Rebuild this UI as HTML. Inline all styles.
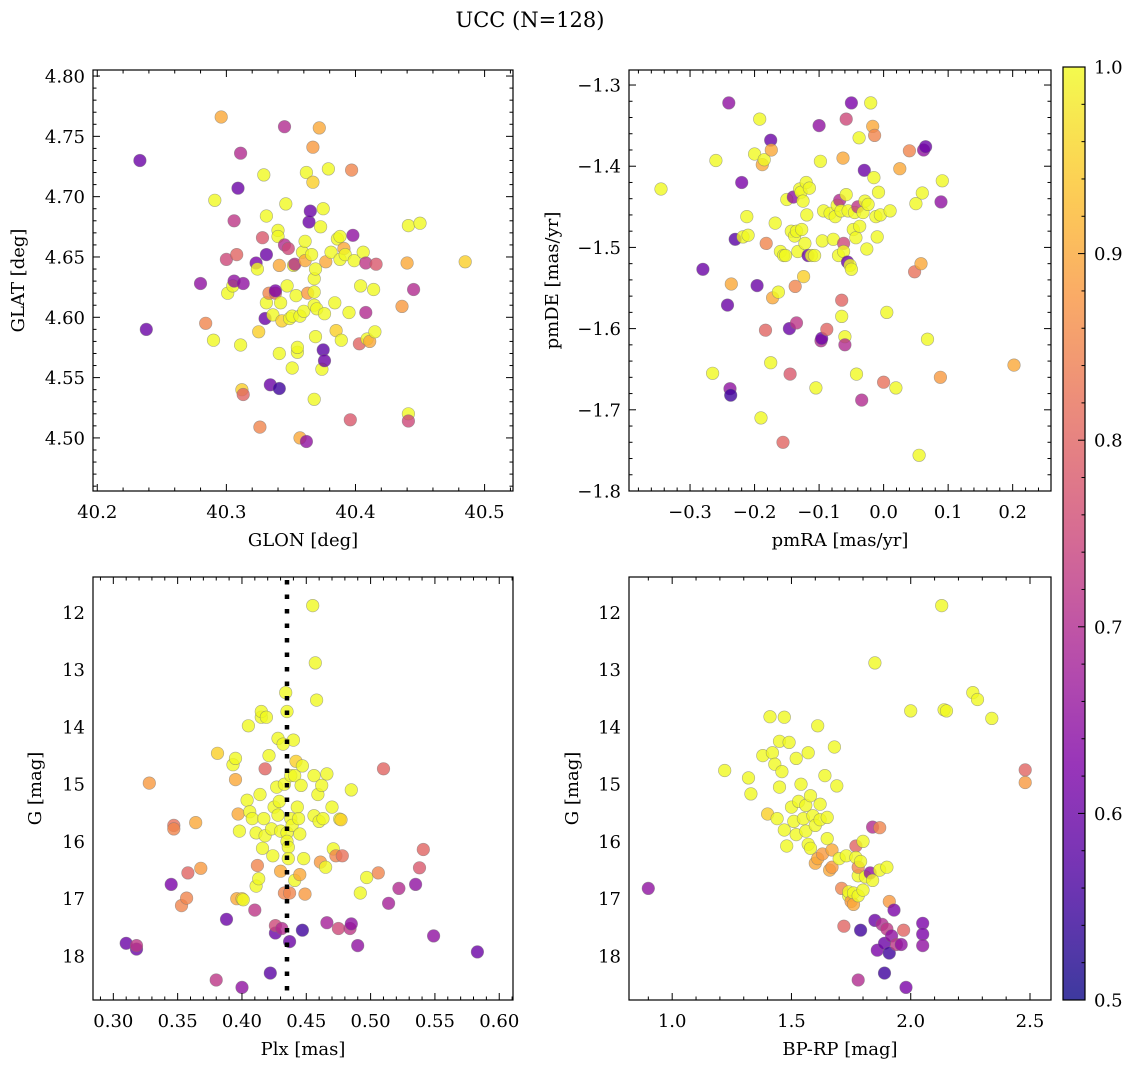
<!DOCTYPE html>
<html><head><meta charset="utf-8">
<style>
body{margin:0;background:#fff;}
svg{display:block;font-family:"DejaVu Serif","Liberation Serif",serif;}
</style></head>
<body>
<svg id="fig" width="1136" height="1067" viewBox="0 0 1136 1067">
<text x="530" y="27" font-size="21" text-anchor="middle">UCC (N=128)</text>
</svg>
<script>
// ---- data: [x, y, membership probability] ----
const glonGlat = [[40.233,4.730,0.6],[40.238,4.590,0.6],[40.280,4.628,0.65],[40.284,4.595,0.85],[40.291,4.697,1],[40.290,4.581,1],[40.296,4.766,0.9],[40.300,4.648,0.75],[40.301,4.620,1],[40.305,4.626,1],[40.306,4.680,0.72],[40.308,4.652,0.8],[40.306,4.630,0.65],[40.309,4.707,0.6],[40.311,4.736,0.7],[40.311,4.577,1],[40.312,4.540,0.95],[40.313,4.536,0.8],[40.313,4.628,0.65],[40.323,4.645,0.62],[40.324,4.640,1],[40.325,4.588,0.95],[40.326,4.509,0.85],[40.328,4.666,0.78],[40.329,4.718,1],[40.330,4.599,0.6],[40.331,4.652,0.6],[40.331,4.684,1],[40.331,4.612,1],[40.333,4.620,0.85],[40.334,4.544,0.6],[40.336,4.602,1],[40.338,4.620,0.82],[40.338,4.622,0.62],[40.340,4.672,1],[40.340,4.667,1],[40.341,4.643,0.9],[40.341,4.541,0.55],[40.341,4.570,1],[40.342,4.612,1],[40.343,4.597,0.95],[40.345,4.758,0.7],[40.345,4.660,0.7],[40.346,4.694,1],[40.347,4.626,1],[40.348,4.657,0.75],[40.349,4.599,1],[40.351,4.601,1],[40.351,4.558,1],[40.352,4.643,1],[40.353,4.644,0.7],[40.354,4.618,1],[40.355,4.571,1],[40.355,4.575,1],[40.357,4.500,0.9],[40.357,4.601,1],[40.359,4.654,1],[40.360,4.605,1],[40.361,4.647,0.9],[40.361,4.663,1],[40.362,4.720,1],[40.362,4.497,0.65],[40.363,4.620,0.88],[40.364,4.679,0.6],[40.365,4.688,0.6],[40.366,4.652,1],[40.367,4.741,0.88],[40.367,4.712,0.95],[40.368,4.632,1],[40.368,4.610,1],[40.368,4.621,1],[40.368,4.532,1],[40.369,4.584,1],[40.369,4.640,1],[40.370,4.607,1],[40.372,4.757,0.9],[40.373,4.675,1],[40.374,4.557,1],[40.375,4.690,1],[40.375,4.573,0.58],[40.376,4.564,0.6],[40.376,4.603,1],[40.377,4.646,0.9],[40.379,4.723,1],[40.381,4.654,1],[40.384,4.612,1],[40.385,4.589,0.95],[40.386,4.665,1],[40.388,4.648,1],[40.388,4.667,1],[40.389,4.581,1],[40.391,4.657,0.9],[40.392,4.652,1],[40.395,4.604,1],[40.396,4.515,0.78],[40.397,4.722,0.85],[40.398,4.668,0.65],[40.399,4.647,1],[40.403,4.578,0.8],[40.404,4.626,1],[40.406,4.654,1],[40.408,4.645,0.72],[40.408,4.604,0.7],[40.409,4.582,1],[40.411,4.580,0.9],[40.414,4.623,1],[40.415,4.588,1],[40.416,4.644,0.78],[40.436,4.609,0.88],[40.440,4.645,0.9],[40.441,4.520,1],[40.441,4.676,1],[40.441,4.514,0.75],[40.445,4.623,0.7],[40.450,4.678,1],[40.485,4.646,0.95]];
const pmData = [[-0.345,-1.428,1],[-0.280,-1.527,0.6],[-0.265,-1.655,1],[-0.260,-1.393,1],[-0.240,-1.322,0.65],[-0.242,-1.571,0.6],[-0.238,-1.674,0.65],[-0.237,-1.682,0.55],[-0.236,-1.545,0.9],[-0.230,-1.490,0.58],[-0.220,-1.420,0.62],[-0.218,-1.487,1],[-0.212,-1.462,1],[-0.210,-1.485,1],[-0.200,-1.385,1],[-0.196,-1.547,0.6],[-0.192,-1.342,1],[-0.190,-1.710,1],[-0.188,-1.398,0.9],[-0.185,-1.392,1],[-0.183,-1.602,0.8],[-0.182,-1.495,0.85],[-0.175,-1.368,0.6],[-0.174,-1.380,0.9],[-0.172,-1.562,0.9],[-0.175,-1.642,1],[-0.168,-1.470,1],[-0.163,-1.555,1],[-0.160,-1.505,1],[-0.156,-1.740,0.8],[-0.155,-1.510,1],[-0.152,-1.510,1],[-0.150,-1.441,1],[-0.146,-1.600,0.6],[-0.145,-1.656,0.78],[-0.143,-1.480,1],[-0.140,-1.438,0.65],[-0.138,-1.486,1],[-0.137,-1.548,0.85],[-0.135,-1.593,0.72],[-0.135,-1.480,1],[-0.133,-1.505,1],[-0.130,-1.428,1],[-0.128,-1.432,1],[-0.127,-1.478,1],[-0.125,-1.443,1],[-0.124,-1.536,0.95],[-0.122,-1.495,1],[-0.120,-1.420,1],[-0.119,-1.460,1],[-0.117,-1.510,0.6],[-0.115,-1.427,1],[-0.112,-1.510,1],[-0.107,-1.510,1],[-0.105,-1.673,1],[-0.100,-1.350,0.65],[-0.097,-1.615,0.7],[-0.098,-1.394,1],[-0.096,-1.612,0.6],[-0.095,-1.492,1],[-0.093,-1.455,1],[-0.088,-1.601,0.8],[-0.083,-1.458,1],[-0.078,-1.490,1],[-0.075,-1.462,1],[-0.072,-1.448,1],[-0.070,-1.510,1],[-0.068,-1.442,0.7],[-0.066,-1.455,1],[-0.065,-1.565,0.8],[-0.065,-1.585,1],[-0.063,-1.390,0.9],[-0.062,-1.495,0.75],[-0.062,-1.505,1],[-0.060,-1.610,1],[-0.060,-1.620,0.7],[-0.058,-1.342,0.75],[-0.058,-1.435,1],[-0.056,-1.518,0.6],[-0.055,-1.455,1],[-0.052,-1.522,1],[-0.050,-1.527,1],[-0.050,-1.322,0.62],[-0.047,-1.478,1],[-0.045,-1.457,1],[-0.043,-1.488,1],[-0.042,-1.656,1],[-0.040,-1.450,0.72],[-0.038,-1.365,1],[-0.037,-1.474,1],[-0.034,-1.688,0.7],[-0.032,-1.457,1],[-0.030,-1.405,0.6],[-0.029,-1.443,1],[-0.026,-1.502,1],[-0.024,-1.447,1],[-0.020,-1.322,1],[-0.017,-1.351,0.9],[-0.015,-1.414,1],[-0.014,-1.362,0.85],[-0.012,-1.462,1],[-0.010,-1.487,1],[-0.008,-1.432,1],[-0.005,-1.460,1],[0.000,-1.666,0.82],[0.005,-1.580,1],[0.010,-1.455,1],[0.019,-1.673,1],[0.025,-1.403,0.9],[0.040,-1.381,0.85],[0.048,-1.530,0.82],[0.050,-1.446,1],[0.055,-1.756,1],[0.058,-1.520,0.9],[0.060,-1.433,1],[0.062,-1.380,0.65],[0.065,-1.376,0.6],[0.068,-1.613,1],[0.088,-1.660,0.88],[0.089,-1.444,0.65],[0.091,-1.418,1],[0.202,-1.645,0.9]];
const plxG = [[0.310,17.78,0.6],[0.318,17.88,0.6],[0.318,17.82,0.72],[0.328,14.98,0.88],[0.345,16.75,0.62],[0.347,15.72,0.82],[0.347,15.78,0.85],[0.353,17.12,0.85],[0.357,16.99,0.85],[0.358,16.55,0.8],[0.364,15.67,0.9],[0.368,16.47,0.88],[0.380,18.42,0.72],[0.381,14.46,0.95],[0.388,17.36,0.6],[0.393,14.66,1],[0.395,14.55,1],[0.395,14.92,0.9],[0.396,17.0,0.9],[0.397,15.52,0.9],[0.398,15.82,1],[0.400,17.0,0.95],[0.400,18.55,0.65],[0.401,17.02,1],[0.404,15.28,1],[0.405,13.98,1],[0.406,15.48,1],[0.408,15.60,1],[0.410,17.20,0.72],[0.411,16.78,1],[0.411,15.85,1],[0.412,16.42,0.85],[0.413,16.65,1],[0.414,15.18,1],[0.415,13.83,1],[0.415,13.73,1],[0.416,16.12,1],[0.417,15.60,1],[0.418,15.90,1],[0.418,14.73,0.8],[0.419,13.83,1],[0.421,14.50,1],[0.422,18.30,0.58],[0.423,15.78,1],[0.424,16.25,1],[0.425,15.40,1],[0.426,17.60,0.6],[0.426,17.47,0.75],[0.427,15.05,1],[0.428,14.20,1],[0.428,15.54,1],[0.429,15.30,1],[0.430,15.82,1],[0.430,16.52,0.9],[0.431,17.52,0.7],[0.432,14.30,1],[0.433,16.90,0.85],[0.433,15.00,1],[0.434,13.40,1],[0.435,15.85,1],[0.435,16.00,1],[0.435,13.73,1],[0.436,16.10,1],[0.436,16.30,1],[0.437,16.90,0.85],[0.437,17.75,0.6],[0.438,14.85,1],[0.438,15.60,1],[0.439,15.72,1],[0.440,14.23,1],[0.441,16.68,1],[0.441,14.85,1],[0.442,14.60,0.95],[0.443,15.40,1],[0.444,15.60,1],[0.445,16.58,0.9],[0.445,15.87,1],[0.446,15.02,1],[0.447,14.68,1],[0.447,17.55,0.55],[0.448,16.30,1],[0.449,16.92,0.88],[0.455,11.88,1],[0.456,14.85,1],[0.456,15.55,1],[0.457,12.88,1],[0.458,13.53,1],[0.459,15.18,1],[0.460,15.65,1],[0.461,16.36,0.88],[0.462,15.02,1],[0.463,15.60,1],[0.465,16.45,1],[0.466,14.82,1],[0.466,17.42,0.68],[0.470,15.40,1],[0.471,16.13,1],[0.473,16.25,0.85],[0.475,17.52,0.75],[0.476,15.61,1],[0.477,15.62,0.95],[0.478,16.25,0.82],[0.484,17.52,0.72],[0.485,17.44,0.65],[0.485,15.10,1],[0.490,17.82,0.65],[0.492,16.90,1],[0.497,16.63,1],[0.506,16.55,0.85],[0.510,14.73,0.8],[0.514,17.08,0.68],[0.522,16.82,0.7],[0.535,16.75,0.65],[0.538,16.46,0.78],[0.541,16.14,0.8],[0.549,17.65,0.65],[0.583,17.93,0.6]];
const colorG = [[0.90,16.82,0.65],[1.22,14.76,1],[1.32,14.89,1],[1.33,15.17,1],[1.38,14.50,1],[1.41,13.82,1],[1.40,15.52,0.95],[1.42,14.45,1],[1.43,14.65,1],[1.44,15.60,1],[1.45,15.05,1],[1.45,14.25,1],[1.46,14.78,1],[1.47,13.83,1],[1.47,15.80,1],[1.48,16.08,1],[1.49,14.27,1],[1.50,15.40,1],[1.51,15.65,1],[1.52,15.88,1],[1.52,14.55,1],[1.53,15.30,1],[1.54,15.00,1],[1.55,15.60,1],[1.56,15.82,1],[1.56,15.37,1],[1.57,14.45,1],[1.57,16.05,1],[1.58,16.12,1],[1.58,15.20,1],[1.59,15.55,1],[1.60,15.72,1],[1.60,16.38,0.9],[1.61,13.98,1],[1.61,16.30,0.9],[1.62,15.35,1],[1.62,15.62,1],[1.63,16.22,0.88],[1.64,14.85,1],[1.65,15.95,1],[1.65,15.58,1],[1.66,16.50,0.9],[1.67,16.15,0.9],[1.67,16.45,0.88],[1.68,14.35,1],[1.69,15.03,1],[1.70,16.30,1],[1.71,16.82,0.85],[1.72,17.48,0.8],[1.73,16.25,1],[1.74,16.95,1],[1.74,16.88,1],[1.75,17.05,0.88],[1.76,16.90,1],[1.76,17.10,0.9],[1.77,16.08,0.8],[1.77,16.28,1],[1.78,16.95,1],[1.78,16.60,1],[1.78,16.45,0.85],[1.78,18.42,0.7],[1.79,16.35,1],[1.79,17.55,0.55],[1.80,16.0,1],[1.80,16.85,1],[1.81,16.62,1],[1.83,16.55,0.65],[1.84,15.75,0.7],[1.84,16.68,1],[1.85,12.88,1],[1.85,17.38,0.6],[1.86,17.90,0.62],[1.87,16.50,1],[1.87,15.76,0.85],[1.88,17.45,0.7],[1.89,18.30,0.55],[1.89,17.78,0.6],[1.90,17.53,0.72],[1.90,16.45,1],[1.91,17.05,0.88],[1.91,17.95,0.55],[1.92,17.65,0.65],[1.93,17.20,0.62],[1.94,17.80,0.72],[1.96,17.80,0.65],[1.97,17.55,0.8],[1.98,18.55,0.62],[2.00,13.72,1],[2.05,17.43,0.62],[2.05,17.62,0.62],[2.05,17.82,0.65],[2.13,11.88,1],[2.14,13.70,1],[2.15,13.72,1],[2.26,13.40,1],[2.28,13.52,1],[2.34,13.85,1],[2.48,14.75,0.8],[2.48,14.97,0.88]];
const plxMedian = 0.435;
const ticks1x = [40.2,40.3,40.4,40.5], ticks1y = [4.50,4.55,4.60,4.65,4.70,4.75,4.80];
const ticks2x = [-0.3,-0.2,-0.1,0.0,0.1,0.2], ticks2y = [-1.8,-1.7,-1.6,-1.5,-1.4,-1.3];
const ticks3x = [0.30,0.35,0.40,0.45,0.50,0.55,0.60], ticksGy = [12,13,14,15,16,17,18];
const ticks4x = [1.0,1.5,2.0,2.5], ticksCb = [0.5,0.6,0.7,0.8,0.9,1.0];

const NS = 'http://www.w3.org/2000/svg';
const svg = document.getElementById('fig');
function mk(tag, attrs, parent){const e=document.createElementNS(NS,tag);for(const k in attrs)e.setAttribute(k,attrs[k]);(parent||svg).appendChild(e);return e;}
const plasma=[[13,8,135],[76,2,161],[126,3,168],[169,35,149],[204,71,120],[229,107,93],[248,148,65],[253,195,40],[240,249,33]];
function cmap(p){let t=Math.max(0,Math.min(1,(p-0.5)/0.5))*8;let i=Math.min(7,Math.floor(t)),f=t-i;const a=plasma[i],b=plasma[i+1];return 'rgb('+a.map((v,k)=>Math.round(v+(b[k]-v)*f)).join(',')+')';}
function fmt(v,d){return (v<0?'\u2212':'')+Math.abs(v).toFixed(d);}
const TICK_FS=18, LABEL_FS=18;

function panel(cfg){
  const g=mk('g',{});
  
  
  const sx=v=>cfg.x0+(v-cfg.xd[0])/(cfg.xd[1]-cfg.xd[0])*(cfg.x1-cfg.x0);
  const sy=v=>cfg.y1-(v-cfg.yd[0])/(cfg.yd[1]-cfg.yd[0])*(cfg.y1-cfg.y0);
  const clipId='clip-'+cfg.name;
  const cp=mk('clipPath',{id:clipId},g);mk('rect',{x:cfg.x0,y:cfg.y0,width:cfg.x1-cfg.x0,height:cfg.y1-cfg.y0},cp);
  const pts=mk('g',{'clip-path':'url(#'+clipId+')'},g);
  
  
  cfg.data.forEach(d=>{
    const c=mk('circle',{cx:sx(d[0]).toFixed(1),cy:sy(d[1]).toFixed(1),r:6.3,fill:cmap(d[2]),'fill-opacity':0.8,stroke:'#777','stroke-opacity':0.6,'stroke-width':0.6},pts);
    
    
  });
  if(cfg.vline!==undefined){
    const l=mk('line',{x1:sx(cfg.vline),x2:sx(cfg.vline),y1:cfg.y0+3,y2:cfg.y1,stroke:'#000','stroke-width':4.5,'stroke-dasharray':'4.5,10'},g);
    
    
  }
  const fr=mk('rect',{x:cfg.x0,y:cfg.y0,width:cfg.x1-cfg.x0,height:cfg.y1-cfg.y0,fill:'none',stroke:'#000','stroke-width':1.2},g);
  
  
  const tg=mk('g',{stroke:'#000','stroke-width':1},g);
  const eps=1e-9;
  for(let v=Math.ceil(cfg.xd[0]/cfg.xm-eps)*cfg.xm; v<=cfg.xd[1]+eps; v+=cfg.xm){
    const X=sx(v), maj=cfg.xt.some(t=>Math.abs(t-v)<cfg.xm/3), L=maj?7:3.5;
    mk('line',{x1:X,x2:X,y1:cfg.y1,y2:cfg.y1-L},tg);mk('line',{x1:X,x2:X,y1:cfg.y0,y2:cfg.y0+L},tg);
  }
  for(let v=Math.ceil(cfg.yd[0]/cfg.ym-eps)*cfg.ym; v<=cfg.yd[1]+eps; v+=cfg.ym){
    const Y=sy(v), maj=cfg.yt.some(t=>Math.abs(t-v)<cfg.ym/3), L=maj?7:3.5;
    mk('line',{x1:cfg.x0,x2:cfg.x0+L,y1:Y,y2:Y},tg);mk('line',{x1:cfg.x1,x2:cfg.x1-L,y1:Y,y2:Y},tg);
  }
  cfg.xt.forEach(t=>{const e=mk('text',{x:sx(t),y:cfg.y1+27,'font-size':TICK_FS,'text-anchor':'middle'},g);e.textContent=fmt(t,cfg.xdp);});
  cfg.yt.forEach(t=>{const e=mk('text',{x:cfg.x0-8,y:sy(t)+6.5,'font-size':TICK_FS,'text-anchor':'end'},g);e.textContent=fmt(t,cfg.ydp);});
  const xl=mk('text',{x:(cfg.x0+cfg.x1)/2,y:cfg.y1+55,'font-size':LABEL_FS,'text-anchor':'middle'},g);xl.textContent=cfg.xlabel;
  
  
  const yl=mk('text',{x:0,y:0,'font-size':LABEL_FS,'text-anchor':'middle',transform:'translate('+cfg.ylx+','+((cfg.y0+cfg.y1)/2)+') rotate(-90)'},g);yl.textContent=cfg.ylabel;
  
  
}
panel({name:'panel-glon-glat',x0:93,x1:513,y0:70,y1:491,xd:[40.1967,40.522],yd:[4.456,4.805],xt:ticks1x,yt:ticks1y,xm:0.02,ym:0.01,xdp:1,ydp:2,data:glonGlat,xlabel:'GLON [deg]',ylabel:'GLAT [deg]',ylx:24});
panel({name:'panel-proper-motion',x0:629,x1:1051,y0:70,y1:491,xd:[-0.3946,0.2594],yd:[-1.8,-1.2815],xt:ticks2x,yt:ticks2y,xm:0.02,ym:0.02,xdp:1,ydp:1,data:pmData,xlabel:'pmRA [mas/yr]',ylabel:'pmDE [mas/yr]',ylx:558});
panel({name:'panel-plx-g',x0:93,x1:513,y0:577,y1:1000,xd:[0.2842,0.6107],yd:[18.77,11.38],xt:ticks3x,yt:ticksGy,xm:0.01,ym:0.2,xdp:2,ydp:0,data:plxG,vline:plxMedian,xlabel:'Plx [mas]',ylabel:'G [mag]',ylx:41});
panel({name:'panel-cmd',x0:629,x1:1051,y0:577,y1:1000,xd:[0.819,2.588],yd:[18.77,11.38],xt:ticks4x,yt:ticksGy,xm:0.1,ym:0.2,xdp:1,ydp:0,data:colorG,xlabel:'BP-RP [mag]',ylabel:'G [mag]',ylx:578});

(function(){
  const x0=1063,x1=1085,y0=67,y1=1000;
  const cb=mk('g',{});
  
  
  const gr=mk('linearGradient',{id:'cbgrad',x1:0,y1:1,x2:0,y2:0},cb);
  for(let i=0;i<=20;i++){const p=0.5+i/40;mk('stop',{offset:(i/20),'stop-color':cmap(p),'stop-opacity':0.8},gr);}
  mk('rect',{x:x0,y:y0,width:x1-x0,height:y1-y0,fill:'url(#cbgrad)',stroke:'#000','stroke-width':1.2},cb);
  const sy=v=>y1-(v-0.5)/0.5*(y1-y0);
  for(let v=0.5;v<=1.0001;v+=0.02){const maj=ticksCb.some(t=>Math.abs(t-v)<0.005);mk('line',{x1:x1,x2:x1-(maj?7:3.5),y1:sy(v),y2:sy(v),stroke:'#000','stroke-width':1},cb);}
  ticksCb.forEach(t=>{const e=mk('text',{x:x1+9,y:sy(t)+6.5,'font-size':TICK_FS},cb);e.textContent=t.toFixed(1);});
})();
</script>
</body></html>
